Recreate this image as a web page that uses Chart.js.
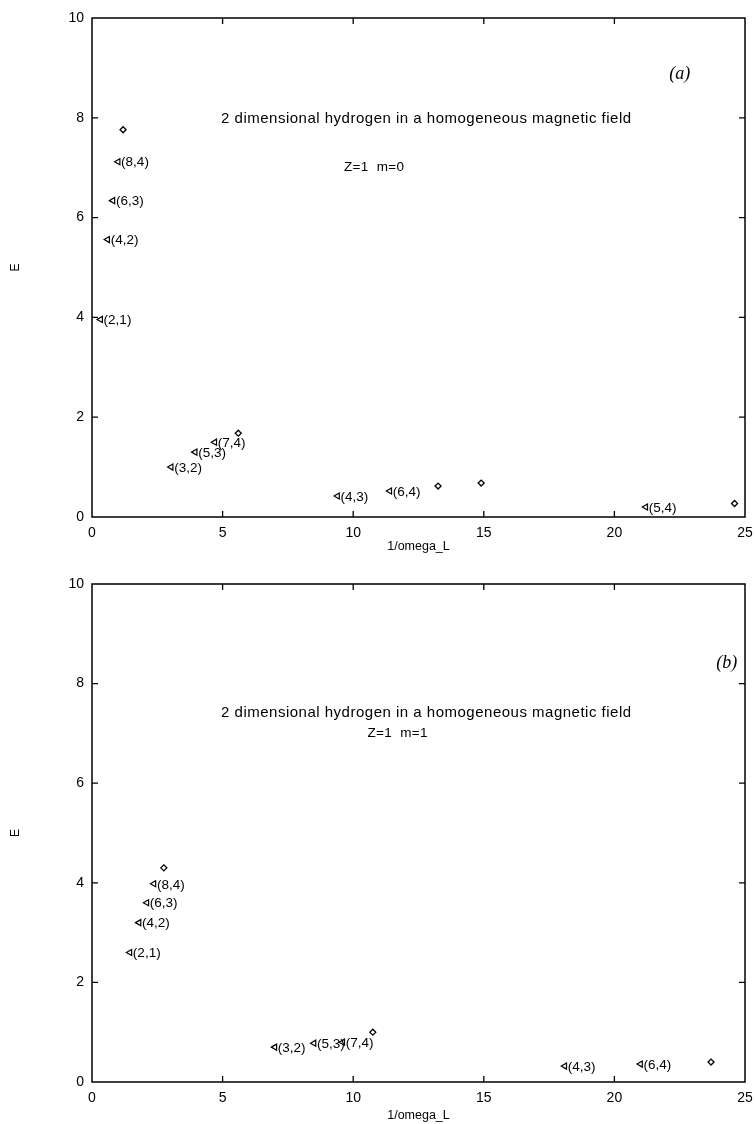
<!DOCTYPE html>
<html>
<head>
<meta charset="utf-8">
<script src="https://cdn.jsdelivr.net/npm/chart.js@4.4.1/dist/chart.umd.min.js"></script>
<style>
  html, body { margin: 0; padding: 0; background: #fff; }
  .panel { position: absolute; left: 0; width: 756px; height: 562px; }
  #panelA { top: 0; }
  #panelB { top: 562px; }
</style>
</head>
<body>
<div class="panel" id="panelA"><canvas id="chartA" width="756" height="562"></canvas></div>
<div class="panel" id="panelB"><canvas id="chartB" width="756" height="562"></canvas></div>
<script>
// 2D hydrogen in a homogeneous magnetic field: E vs 1/omega_L, m=0 (a) and m=1 (b).

const X_MIN = 0, X_MAX = 25, X_STEP = 5;
const Y_MIN = 0, Y_MAX = 10, Y_STEP = 2;

const TITLE_TEXT = "2 dimensional hydrogen in a homogeneous magnetic field";

// (a) m=0 — labelled states (n,k)
const A_STATES  = ["(2,1)", "(4,2)", "(6,3)", "(8,4)", "(3,2)", "(5,3)", "(7,4)", "(4,3)", "(6,4)", "(5,4)"];
const A_STATE_X = [0.33, 0.6, 0.8, 1.0, 3.03, 3.95, 4.7, 9.4, 11.4, 21.2];
const A_STATE_Y = [3.96, 5.56, 6.34, 7.12, 1.0, 1.3, 1.5, 0.42, 0.52, 0.2];
// (a) open points
const A_OPEN_X = [1.19, 5.6, 13.25, 14.9, 24.6];
const A_OPEN_Y = [7.76, 1.68, 0.62, 0.68, 0.27];

// (b) m=1 — labelled states (n,k)
const B_STATES  = ["(2,1)", "(4,2)", "(6,3)", "(8,4)", "(3,2)", "(5,3)", "(7,4)", "(4,3)", "(6,4)"];
const B_STATE_X = [1.45, 1.8, 2.1, 2.37, 7.0, 8.5, 9.6, 18.1, 21.0];
const B_STATE_Y = [2.6, 3.2, 3.6, 3.98, 0.7, 0.78, 0.8, 0.32, 0.36];
// (b) open points
const B_OPEN_X = [2.75, 10.75, 23.7];
const B_OPEN_Y = [4.3, 1.0, 0.4];

const SANS = "'Liberation Sans', Arial, Helvetica, sans-serif";
const SERIF = "'Liberation Serif', 'Times New Roman', serif";

const toPoints = (xs, ys) => xs.map((x, i) => ({ x, y: ys[i] }));

// gnuplot-ish frame: full box, inward ticks, point labels, free text
const gnuFrame = {
  id: "gnuFrame",
  afterDraw(chart, _args, opts) {
    const { ctx, chartArea: a, scales: { x, y } } = chart;
    ctx.save();
    ctx.strokeStyle = "#000";
    ctx.lineWidth = 1.5;
    ctx.strokeRect(a.left, a.top, a.right - a.left, a.bottom - a.top);

    const tl = 6;
    ctx.lineWidth = 1.3;
    ctx.beginPath();
    for (const t of x.ticks) {
      const px = x.getPixelForValue(t.value);
      if (t.value === X_MIN || t.value === X_MAX) continue;
      ctx.moveTo(px, a.bottom); ctx.lineTo(px, a.bottom - tl);
      ctx.moveTo(px, a.top); ctx.lineTo(px, a.top + tl);
    }
    for (const t of y.ticks) {
      const py = y.getPixelForValue(t.value);
      if (t.value === Y_MIN || t.value === Y_MAX) continue;
      ctx.moveTo(a.left, py); ctx.lineTo(a.left + tl, py);
      ctx.moveTo(a.right, py); ctx.lineTo(a.right - tl, py);
    }
    ctx.stroke();

    // state labels next to the markers
    ctx.fillStyle = "#000";
    ctx.font = "13.5px " + SANS;
    ctx.textAlign = "left";
    ctx.textBaseline = "middle";
    const meta = chart.getDatasetMeta(0);
    meta.data.forEach((el, i) => {
      ctx.fillText(opts.labels[i], el.x + 3, el.y + 1);
    });

    // free text
    ctx.textAlign = "center";
    for (const n of opts.notes) {
      ctx.font = n.font;
      ctx.letterSpacing = n.spacing || "0px";
      ctx.fillText(n.text, x.getPixelForValue(n.x), y.getPixelForValue(n.y));
    }
    ctx.restore();
  },
};

function makeChart(canvasId, states, sx, sy, ox, oy, notes, pad, xHeight, titlePadBottom) {
  return new Chart(document.getElementById(canvasId), {
    type: "scatter",
    data: {
      datasets: [
        {
          label: "states",
          data: toPoints(sx, sy),
          pointStyle: "triangle",
          rotation: -90,
          radius: 3.5,
          borderColor: "#000",
          backgroundColor: "rgba(0,0,0,0)",
          borderWidth: 1.2,
        },
        {
          label: "open",
          data: toPoints(ox, oy),
          pointStyle: "rectRot",
          radius: 3,
          borderColor: "#000",
          backgroundColor: "#fff",
          borderWidth: 1.3,
        },
      ],
    },
    options: {
      responsive: false,
      animation: false,
      events: [],
      layout: { padding: { top: pad, right: 11, left: 0, bottom: 0 } },
      plugins: {
        legend: { display: false },
        tooltip: { enabled: false },
        gnuFrame: { labels: states, notes },
      },
      scales: {
        x: {
          type: "linear",
          min: X_MIN, max: X_MAX,
          afterFit: (s) => { s.height = xHeight; s.paddingLeft = 0; s.paddingRight = 0; },
          ticks: { stepSize: X_STEP, color: "#000", font: { family: SANS, size: 14 }, padding: 8 },
          grid: { display: false, drawTicks: false, tickLength: 0 },
          border: { display: false },
          title: { display: true, text: "1/omega_L", color: "#000", font: { family: SANS, size: 12.5 }, padding: { top: 0, bottom: titlePadBottom } },
        },
        y: {
          type: "linear",
          min: Y_MIN, max: Y_MAX,
          afterFit: (s) => { s.width = 92; },
          ticks: { stepSize: Y_STEP, color: "#000", font: { family: SANS, size: 14 }, padding: 8 },
          grid: { display: false, drawTicks: false, tickLength: 0 },
          border: { display: false },
          title: { display: true, text: "E", color: "#000", font: { family: SANS, size: 12 }, padding: { top: 8, bottom: 0 } },
        },
      },
    },
    plugins: [gnuFrame],
  });
}

makeChart("chartA", A_STATES, A_STATE_X, A_STATE_Y, A_OPEN_X, A_OPEN_Y, [
  { text: TITLE_TEXT, x: 12.8, y: 7.98, font: "15px " + SANS, spacing: "0.5px" },
  { text: "Z=1  m=0", x: 10.8, y: 7.0, font: "13.5px " + SANS, spacing: "0.3px" },
  { text: "(a)", x: 22.5, y: 8.88, font: "italic 18px " + SERIF },
], 18, 45, 8);

makeChart("chartB", B_STATES, B_STATE_X, B_STATE_Y, B_OPEN_X, B_OPEN_Y, [
  { text: TITLE_TEXT, x: 12.8, y: 7.41, font: "15px " + SANS, spacing: "0.5px" },
  { text: "Z=1  m=1", x: 11.7, y: 7.0, font: "13.5px " + SANS, spacing: "0.3px" },
  { text: "(b)", x: 24.3, y: 8.41, font: "italic 18px " + SERIF },
], 22, 42, 1);
</script>
</body>
</html>
